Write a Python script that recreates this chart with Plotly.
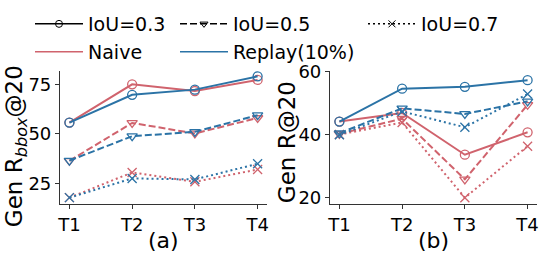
import plotly.graph_objects as go

tasks = ["T1", "T2", "T3", "T4"]

# Panel (a): Gen R_bbox@20
a_naive_03 = [55.7, 75.0, 71.6, 77.2]
a_replay_03 = [55.7, 69.7, 72.3, 79.0]
a_naive_05 = [36.4, 55.5, 50.2, 58.0]
a_replay_05 = [36.5, 48.8, 51.0, 59.4]
a_naive_07 = [17.8, 30.5, 25.8, 32.0]
a_replay_07 = [17.8, 27.5, 27.0, 34.9]

# Panel (b): Gen R@20
b_naive_03 = [44.1, 46.8, 33.6, 40.7]
b_replay_03 = [44.1, 54.5, 55.1, 57.2]
b_naive_05 = [40.2, 45.0, 25.8, 49.4]
b_replay_05 = [40.4, 48.3, 46.5, 50.5]
b_naive_07 = [40.0, 43.8, 20.0, 36.3]
b_replay_07 = [39.9, 47.3, 42.3, 52.8]

RED = "#d0636d"
BLUE = "#2b73a6"
FONT = "DejaVu Sans"

styles = {
    "0.3": dict(dash="solid", symbol="circle-open"),
    "0.5": dict(dash="7px,3px", symbol="triangle-down-open"),
    "0.7": dict(dash="2px,3px", symbol="x-thin-open"),
}

fig = go.Figure()

def add(y, color, iou, xa, ya):
    st = styles[iou]
    fig.add_trace(go.Scatter(
        x=tasks, y=y, mode="lines+markers", xaxis=xa, yaxis=ya,
        line=dict(color=color, width=2, dash=st["dash"]),
        marker=dict(symbol=st["symbol"], size=9, color=color,
                    line=dict(color=color, width=1.3)),
        showlegend=False, hoverinfo="skip"))

for xa, ya, series in [
    ("x", "y", [(a_naive_03, RED, "0.3"), (a_replay_03, BLUE, "0.3"),
                (a_naive_05, RED, "0.5"), (a_replay_05, BLUE, "0.5"),
                (a_naive_07, RED, "0.7"), (a_replay_07, BLUE, "0.7")]),
    ("x2", "y2", [(b_naive_03, RED, "0.3"), (b_replay_03, BLUE, "0.3"),
                  (b_naive_05, RED, "0.5"), (b_replay_05, BLUE, "0.5"),
                  (b_naive_07, RED, "0.7"), (b_replay_07, BLUE, "0.7")]),
]:
    for y, c, iou in series:
        add(y, c, iou, xa, ya)

W, H = 545, 259
# legend entries: (name, colour, style, with marker, x px, y px)
legend_items = [
    ("IoU=0.3", "black", styles["0.3"], True, 30, 24),
    ("Naive", RED, styles["0.3"], False, 30, 52),
    ("IoU=0.5", "black", styles["0.5"], True, 175, 24),
    ("Replay(10%)", BLUE, styles["0.3"], False, 175, 52),
    ("IoU=0.7", "black", styles["0.7"], True, 363, 24),
]
legends = {}
for i, (name, c, st, mk, lx, ly) in enumerate(legend_items):
    key = "legend" if i == 0 else f"legend{i + 1}"
    fig.add_trace(go.Scatter(
        x=[None], y=[None], mode="lines+markers" if mk else "lines",
        name=name, legend=key,
        line=dict(color=c, width=1.5, dash=st["dash"]),
        marker=dict(symbol=st["symbol"], size=7, color=c,
                    line=dict(color=c, width=1)),
        showlegend=True))
    legends[key] = dict(orientation="v", xanchor="left", yanchor="middle",
                        xref="container", yref="container",
                        x=lx / W, y=1 - ly / H,
                        bgcolor="rgba(0,0,0,0)", font=dict(family=FONT, size=19),
                        itemwidth=48)

axis_common = dict(showline=True, linecolor="#333", linewidth=1.2,
                   ticks="outside", ticklen=4, tickwidth=1.2, tickcolor="#333",
                   showgrid=False, zeroline=False, mirror=False,
                   tickfont=dict(family=FONT, size=18, color="black"))

fig.update_layout(
    width=W, height=H,
    margin=dict(l=60, r=8, t=71, b=55, autoexpand=False),
    paper_bgcolor="white", plot_bgcolor="white",
    font=dict(family=FONT, color="black"),
    xaxis=dict(domain=[0, 0.434], range=[-0.15, 3.15], anchor="y", **axis_common),
    yaxis=dict(domain=[0, 1], range=[14.6, 81.7], tickvals=[25, 50, 75], anchor="x",
               **axis_common),
    xaxis2=dict(domain=[0.566, 1], range=[-0.15, 3.15], anchor="y2", **axis_common),
    yaxis2=dict(domain=[0, 1], range=[18.0, 60.1], tickvals=[20, 40, 60], anchor="x2",
                **axis_common),
    **legends,
)

titles = [
    dict(text="Gen R<sub><i>bbox</i></sub>@20", x=(16 - 60) / 477, y=0.435, textangle=-90, size=23),
    dict(text="Gen R@20", x=(287 - 60) / 477, y=0.465, textangle=-90, size=23),
    dict(text="(a)", x=0.217, y=(204 - 241) / 134, textangle=0, size=22),
    dict(text="(b)", x=0.783, y=(204 - 241) / 134, textangle=0, size=22),
]
for t in titles:
    fig.add_annotation(text=t["text"], x=t["x"], y=t["y"], xref="paper", yref="paper",
                       xanchor="center", yanchor="middle", textangle=t["textangle"],
                       showarrow=False, font=dict(family=FONT, size=t["size"], color="black"))

fig.write_html("out.html", config={"displayModeBar": False},
               post_script="document.body.style.margin='0px';")
